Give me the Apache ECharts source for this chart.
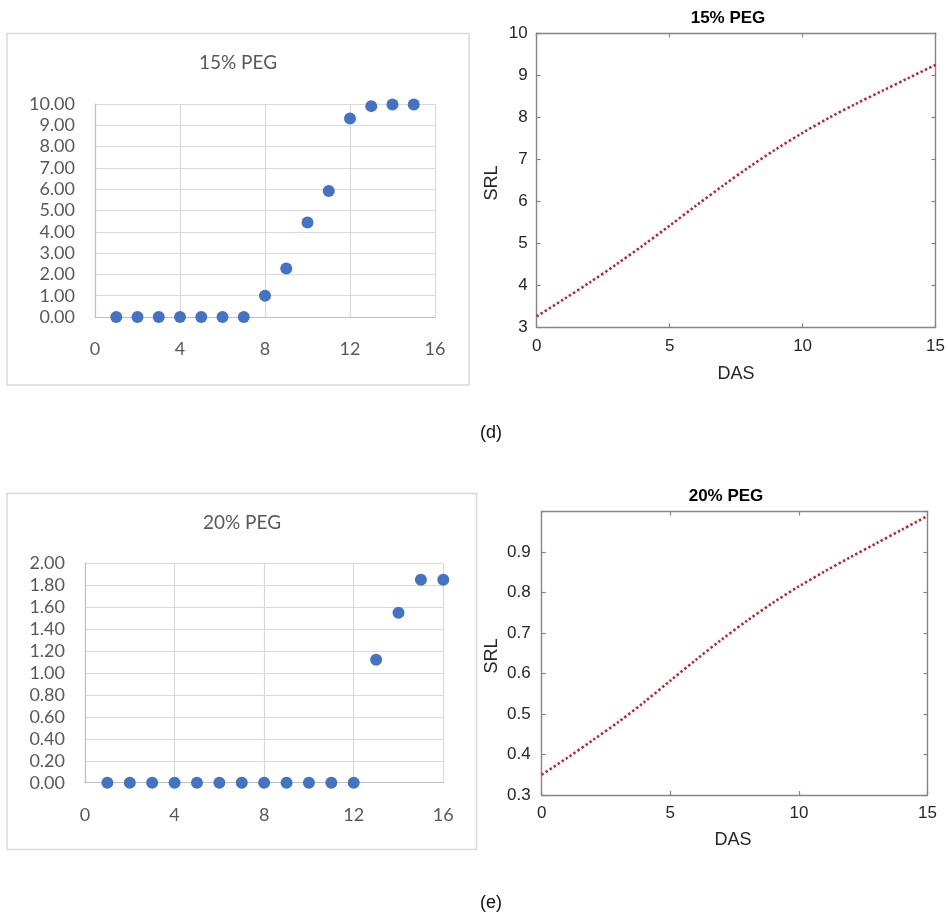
<!DOCTYPE html>
<html>
<head>
<meta charset="utf-8">
<script src="https://cdn.jsdelivr.net/npm/echarts@6/dist/echarts.min.js"></script>
<style>
html,body{margin:0;padding:0;background:#fff;}
#c{width:948px;height:917px;}
</style>
</head>
<body>
<div id="c"></div>
<script>
// ---------- data ----------
const days15 = [1,2,3,4,5,6,7,8,9,10,11,12,13,14,15];
const obs15  = [0,0,0,0,0,0,0,1.00,2.28,4.44,5.92,9.32,9.90,9.98,9.98];
const days20 = [1,2,3,4,5,6,7,8,9,10,11,12,13,14,15,16];
const obs20  = [0,0,0,0,0,0,0,0,0,0,0,0,1.12,1.55,1.85,1.85];

const das    = [0,1,2,3,4,5,6,7,8,9,10,11,12,13,14,15];
const srl15  = [3.26,3.66,4.07,4.50,4.95,5.42,5.90,6.37,6.82,7.24,7.63,7.99,8.32,8.63,8.94,9.25];
const srl20  = [0.350,0.392,0.436,0.481,0.530,0.582,0.634,0.684,0.731,0.775,0.815,0.852,0.887,0.921,0.955,0.989];

// tick labels
const excelXTicks   = [0,4,8,12,16];
const excelY15Ticks = [0,1,2,3,4,5,6,7,8,9,10];
const excelY20Ticks = [0,0.2,0.4,0.6,0.8,1.0,1.2,1.4,1.6,1.8,2.0];
const matXTicks     = [0,5,10,15];
const matY15Ticks   = [3,4,5,6,7,8,9,10];
const matY20Ticks   = [0.3,0.4,0.5,0.6,0.7,0.8,0.9];

const zip = (a,b) => a.map((v,i)=>[v,b[i]]);
const step = t => +(t[1]-t[0]).toFixed(6);

// ---------- styles ----------
const XL_FONT = 'Lato';
const XL_TXT = '#595959';
const ML_FONT = '"Liberation Sans", Arial, sans-serif';

function excelX(grid, ticks){
  return {
    type:'value', gridIndex:grid, min:ticks[0], max:ticks[ticks.length-1], interval:step(ticks),
    axisLine:{show:true, onZero:false, lineStyle:{color:'#bfbfbf', width:1.2}},
    axisTick:{show:false},
    splitLine:{show:true, lineStyle:{color:'#d9d9d9', width:1.2}},
    axisLabel:{color:XL_TXT, fontFamily:XL_FONT, fontSize:18, margin:23}
  };
}
function excelY(grid, ticks){
  return {
    type:'value', gridIndex:grid, min:ticks[0], max:ticks[ticks.length-1], interval:step(ticks),
    axisLine:{show:true, onZero:false, lineStyle:{color:'#bfbfbf', width:1.2}},
    axisTick:{show:false},
    splitLine:{show:true, lineStyle:{color:'#d9d9d9', width:1.2}},
    axisLabel:{color:XL_TXT, fontFamily:XL_FONT, fontSize:18, margin:20, formatter:v=>v.toFixed(2)}
  };
}
const ML_LINE = {show:true, onZero:false, lineStyle:{color:'#858585', width:1.4}};
const ML_TICK = {show:true, inside:true, length:4, lineStyle:{color:'#858585', width:1.2}};
function matX(grid, ticks, pos, showLabel, margin){
  return {
    type:'value', gridIndex:grid, position:pos, min:ticks[0], max:ticks[ticks.length-1], interval:step(ticks),
    axisLine:ML_LINE, axisTick:ML_TICK, splitLine:{show:false},
    axisLabel:{show:showLabel, color:'#262626', fontFamily:ML_FONT, fontSize:17, margin:margin}
  };
}
function matY(grid, ticks, max, pos, showLabel, margin){
  return {
    type:'value', gridIndex:grid, position:pos, min:ticks[0], max:max, interval:step(ticks),
    axisLine:ML_LINE, axisTick:ML_TICK, splitLine:{show:false},
    axisLabel:{show:showLabel, color:'#262626', fontFamily:ML_FONT, fontSize:17, margin:margin,
               showMaxLabel: max === ticks[ticks.length-1],
               formatter: v => String(+v.toFixed(2))}
  };
}

const chart = echarts.init(document.getElementById('c'), null, {renderer:'canvas'});

function txt(x,y,text,font,fill,rot){
  return {type:'text', x:x, y:y, rotation:rot||0, z:10,
    style:{text:text, font:font, fill:fill, align:'center', verticalAlign:'middle',
           textAlign:'center', textVerticalAlign:'middle'}};
}

const option = {
  backgroundColor:'#ffffff',
  animation:false,
  grid:[
    {left:95,    top:104,   width:340,   height:213},
    {left:536.7, top:33.3,  width:401.6, height:294},
    {left:85,    top:563.3, width:358.3, height:219.4},
    {left:541.7, top:511.5, width:385.8, height:283.5}
  ],
  xAxis:[
    excelX(0, excelXTicks),
    matX(1, matXTicks, 'bottom', true, 11),
    matX(1, matXTicks, 'top', false, 8),
    excelX(2, excelXTicks),
    matX(3, matXTicks, 'bottom', true, 10),
    matX(3, matXTicks, 'top', false, 8)
  ],
  yAxis:[
    excelY(0, excelY15Ticks),
    matY(1, matY15Ticks, 10, 'left', true, 9),
    matY(1, matY15Ticks, 10, 'right', false, 8),
    excelY(2, excelY20Ticks),
    matY(3, matY20Ticks, 1.0, 'left', true, 11),
    matY(3, matY20Ticks, 1.0, 'right', false, 8)
  ],
  series:[
    {type:'scatter', xAxisIndex:0, yAxisIndex:0, data:zip(days15, obs15), symbolSize:12, clip:false,
     itemStyle:{color:'#4472c4', opacity:1}},
    {type:'line', xAxisIndex:1, yAxisIndex:1, data:zip(das, srl15), showSymbol:false, smooth:0.3,
     lineStyle:{color:'#c0232b', width:2.6, type:[2.4,2.4], cap:'butt'}},
    {type:'scatter', xAxisIndex:3, yAxisIndex:3, data:zip(days20, obs20), symbolSize:12, clip:false,
     itemStyle:{color:'#4472c4', opacity:1}},
    {type:'line', xAxisIndex:4, yAxisIndex:4, data:zip(das, srl20), showSymbol:false, smooth:0.3,
     lineStyle:{color:'#c0232b', width:2.6, type:[2.4,2.4], cap:'butt'}}
  ],
  graphic:[
    {type:'rect', shape:{x:7, y:33.5, width:462, height:351.5}, style:{fill:null, stroke:'#d9d9d9', lineWidth:1.5}, z:-1},
    {type:'rect', shape:{x:7, y:493.5, width:469.5, height:356}, style:{fill:null, stroke:'#d9d9d9', lineWidth:1.5}, z:-1},
    txt(238, 63, '15% PEG', '19px Lato', XL_TXT),
    txt(242, 523, '20% PEG', '19px Lato', XL_TXT),
    txt(728, 18, '15% PEG', 'bold 17px "Liberation Sans", Arial, sans-serif', '#000'),
    txt(726, 496, '20% PEG', 'bold 17px "Liberation Sans", Arial, sans-serif', '#000'),
    txt(492.5, 183, 'SRL', '18px "Liberation Sans", Arial, sans-serif', '#262626', Math.PI/2),
    txt(492, 656, 'SRL', '18px "Liberation Sans", Arial, sans-serif', '#262626', Math.PI/2),
    txt(736, 374, 'DAS', '18px "Liberation Sans", Arial, sans-serif', '#262626'),
    txt(733, 840, 'DAS', '18px "Liberation Sans", Arial, sans-serif', '#262626'),
    txt(491, 433, '(d)', '18px "Liberation Sans", Arial, sans-serif', '#111'),
    txt(491, 903, '(e)', '18px "Liberation Sans", Arial, sans-serif', '#111')
  ]
};
chart.setOption(option);
</script>
</body>
</html>
